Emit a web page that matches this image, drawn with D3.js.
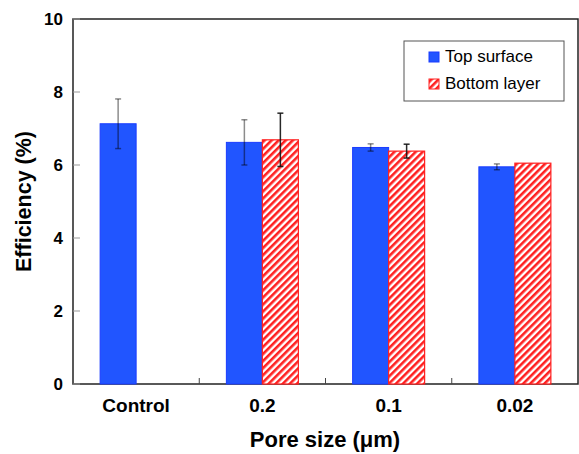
<!DOCTYPE html>
<html>
<head>
<meta charset="utf-8">
<script src="https://cdn.jsdelivr.net/npm/d3@7"></script>
<style>
  body { margin: 0; background: #fff; }
  text { font-family: "Liberation Sans", Arial, sans-serif; font-weight: bold; }
</style>
</head>
<body>
<svg id="chart" width="579" height="454"></svg>
<script>
const categories = ['Control', '0.2', '0.1', '0.02']
const series = ['Top surface', 'Bottom layer']
const topValues = [7.13, 6.62, 6.48, 5.95]
const topErrors = [0.68, 0.62, 0.1, 0.08]
const bottomValues = [null, 6.69, 6.38, 6.05]
const bottomErrors = [null, 0.73, 0.19, 0]
const yTicks = [0, 2, 4, 6, 8, 10]

const blue = '#2155ff'
const red = '#ff2020'

const svg = d3.select('#chart')
const plotLeft = 73, plotRight = 578, plotTop = 19, plotBottom = 384

const x = d3.scaleBand().domain(categories).range([plotLeft, plotRight])
const inner = d3.scaleBand().domain(series).range([0, 72])
const y = d3.scaleLinear().domain([0, 10]).range([plotBottom, plotTop])

/* hatch pattern for bottom layer */
const defs = svg.append('defs')
const pat = defs.append('pattern')
  .attr('id', 'hatch')
  .attr('patternUnits', 'userSpaceOnUse')
  .attr('width', 5)
  .attr('height', 5)
  .attr('patternTransform', 'rotate(45)')
pat.append('rect').attr('width', 5).attr('height', 5).attr('fill', '#fff')
pat.append('rect').attr('width', 2.6).attr('height', 5).attr('fill', red)

/* plot frame */
svg.append('rect')
  .attr('x', plotLeft).attr('y', plotTop)
  .attr('width', plotRight - plotLeft).attr('height', plotBottom - plotTop)
  .attr('fill', 'none').attr('stroke', '#222').attr('stroke-width', 1.5)

// y ticks (inward) + labels
yTicks.forEach(t => {
  svg.append('line')
    .attr('x1', plotLeft).attr('x2', plotLeft + 7)
    .attr('y1', y(t)).attr('y2', y(t))
    .attr('stroke', '#999')
  svg.append('text')
    .attr('x', 63).attr('y', y(t) + 6)
    .attr('text-anchor', 'end')
    .attr('font-size', 17)
    .text(t)
})

// x category separators
categories.slice(1).forEach(c => {
  svg.append('line')
    .attr('x1', x(c)).attr('x2', x(c))
    .attr('y1', plotBottom).attr('y2', plotBottom - 6)
    .attr('stroke', '#444')
})

// category labels
categories.forEach(c => {
  svg.append('text')
    .attr('x', x(c) + x.bandwidth() / 2).attr('y', 412)
    .attr('text-anchor', 'middle')
    .attr('font-size', 19)
    .text(c)
})

/* bars */
const groupOff = (x.bandwidth() - 72) / 2

categories.forEach((c, i) => {
  const bx = x(c) + groupOff
  // top surface
  svg.append('rect')
    .attr('x', bx + inner('Top surface')).attr('y', y(topValues[i]))
    .attr('width', inner.bandwidth()).attr('height', y(0) - y(topValues[i]))
    .attr('fill', blue).attr('stroke', '#1a3cff').attr('stroke-width', 1)
  // bottom layer
  if (bottomValues[i] != null) {
    svg.append('rect')
      .attr('x', bx + inner('Bottom layer')).attr('y', y(bottomValues[i]))
      .attr('width', inner.bandwidth()).attr('height', y(0) - y(bottomValues[i]))
      .attr('fill', 'url(#hatch)').attr('stroke', red).attr('stroke-width', 1.2)
  }
})

// error bars
function errorBar (cx, v, e, colour, op) {
  if (!e) return
  const g = svg.append('g').attr('stroke', colour).attr('stroke-opacity', op).attr('stroke-width', 1.5)
  g.append('line').attr('x1', cx).attr('x2', cx).attr('y1', y(v + e)).attr('y2', y(v - e))
  g.append('line').attr('x1', cx - 3).attr('x2', cx + 3).attr('y1', y(v + e)).attr('y2', y(v + e))
  g.append('line').attr('x1', cx - 3).attr('x2', cx + 3).attr('y1', y(v - e)).attr('y2', y(v - e))
}

categories.forEach((c, i) => {
  const bx = x(c) + groupOff
  errorBar(bx + inner('Top surface') + inner.bandwidth() / 2, topValues[i], topErrors[i], '#000', 0.45)
  if (bottomValues[i] != null) {
    errorBar(bx + inner('Bottom layer') + inner.bandwidth() / 2, bottomValues[i], bottomErrors[i], '#111', 0.9)
  }
})

/* axis titles */
svg.append('text')
  .attr('transform', 'translate(31,' + ((plotTop + plotBottom) / 2) + ') rotate(-90)')
  .attr('text-anchor', 'middle')
  .attr('font-size', 21.5)
  .text('Efficiency (%)')

svg.append('text')
  .attr('x', 325).attr('y', 447)
  .attr('text-anchor', 'middle')
  .attr('font-size', 22)
  .text('Pore size (μm)')

/* legend */
svg.append('rect')
  .attr('x', 404).attr('y', 41).attr('width', 160).attr('height', 60)
  .attr('fill', '#fff').attr('stroke', '#555')

svg.append('rect')
  .attr('x', 429).attr('y', 52).attr('width', 10).attr('height', 10)
  .attr('fill', blue).attr('stroke', '#1a3cff')
svg.append('text')
  .attr('x', 445).attr('y', 62).attr('font-size', 17)
  .style('font-weight', 'normal')
  .text(series[0])

svg.append('rect')
  .attr('x', 429).attr('y', 79).attr('width', 10).attr('height', 10)
  .attr('fill', 'url(#hatch)').attr('stroke', red)
svg.append('text')
  .attr('x', 445).attr('y', 89).attr('font-size', 17)
  .style('font-weight', 'normal')
  .text(series[1])
</script>
</body>
</html>
